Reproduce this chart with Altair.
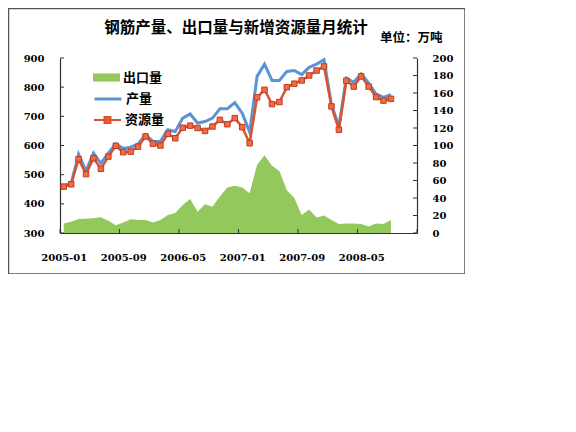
import json
import pandas as pd
import altair as alt

# ---------------- data ----------------
TITLE = "钢筋产量、出口量与新增资源量月统计"
UNIT = "单位：万吨"
SERIES = ["出口量", "产量", "资源量"]
TICK_LABELS = ["2005-01", "2005-09", "2006-05", "2007-01", "2007-09", "2008-05"]
N_CATEGORIES = 48          # category axis 2005-01 .. 2008-12
LABEL_STEP = 8             # a label every 8 months
LEFT_TICKS = [300, 400, 500, 600, 700, 800, 900]
RIGHT_TICKS = [0, 20, 40, 60, 80, 100, 120, 140, 160, 180, 200]

# monthly, 2005-01 .. 2008-09 (万吨)
EXPORT = [11, 13, 16, 16.4, 17, 18, 14, 9, 12, 15.7, 15, 15, 12, 15, 20.6, 23,
          32, 39, 24.4, 33, 30, 41.6, 52, 54, 52, 45.5, 78, 89, 77, 71, 49, 40,
          20.6, 27, 17.6, 20, 15, 10.3, 11, 11, 10.3, 7.3, 11, 10.3, 15]
PRODUCTION = [462, 470, 570, 512, 574, 539, 574, 605, 590, 594, 605, 637, 614,
              614, 654, 648, 694, 708, 677, 682, 694, 726, 726, 747, 711, 646,
              837, 879, 823, 823, 854, 857, 843, 868, 879, 894, 740, 665, 831,
              817, 846, 814, 776, 765, 774]
RESOURCE = [459, 467, 553, 502, 556, 520, 562, 599, 577, 579, 596, 631, 606,
            600, 640, 625, 661, 668, 660, 650, 665, 688, 673, 694, 663, 608,
            765, 791, 742, 749, 800, 812, 823, 840, 857, 871, 734, 654, 822,
            802, 837, 802, 766, 754, 760]

# ---------------- styles ----------------
GREEN = "#92C85C"
BLUE = "#5B93D3"
ORANGE = "#D9532F"
MARKER_FILL = "#EE6B45"
MARKER_STROKE = "#C23B22"
AXIS_COLOR = "#333333"
BORDER_COLOR = "#555555"
NUM_FONT = "DejaVu Serif"
CJK_FONT = "Noto Sans CJK SC"

W, H = 357, 175

df_exp = pd.DataFrame({"i": range(len(EXPORT)), "v": EXPORT, "s": SERIES[0]})
df_prod = pd.DataFrame({"i": range(len(PRODUCTION)), "v": PRODUCTION, "s": SERIES[1]})
df_res = pd.DataFrame({"i": range(len(RESOURCE)), "v": RESOURCE, "s": SERIES[2]})
df_xt = pd.DataFrame({"i": [k - 0.5 for k in range(0, N_CATEGORIES + 1, LABEL_STEP)]})
df_lt = pd.DataFrame({"v": LEFT_TICKS})
df_rt = pd.DataFrame({"v": RIGHT_TICKS})
one = pd.DataFrame({"a": [0]})

label_expr = f"{json.dumps(TICK_LABELS)}[round(datum.value / {LABEL_STEP})]"

X = alt.X(
    "i:Q",
    scale=alt.Scale(domain=[-0.5, N_CATEGORIES - 0.5], nice=False, zero=False),
    axis=alt.Axis(
        values=[k * LABEL_STEP for k in range(len(TICK_LABELS))],
        labelExpr=label_expr, title=None, grid=False, ticks=False, tickSize=0,
        labelFlush=False, labelPadding=19, labelFont=NUM_FONT, labelFontSize=10,
        labelFontWeight="bold", labelColor="black", domainColor=AXIS_COLOR,
        domainWidth=1.2, labelOverlap=False,
    ),
)

Y_LEFT = alt.Y(
    "v:Q",
    scale=alt.Scale(domain=[LEFT_TICKS[0], LEFT_TICKS[-1]], nice=False, zero=False),
    axis=alt.Axis(
        orient="left", values=LEFT_TICKS, title=None, grid=False, ticks=False,
        tickSize=0, labelPadding=16, labelFont=NUM_FONT, labelFontSize=10,
        labelFontWeight="bold", labelColor="black", domainColor=AXIS_COLOR,
        domainWidth=1.2, labelOverlap=False,
    ),
)

Y_RIGHT = alt.Y(
    "v:Q",
    scale=alt.Scale(domain=[RIGHT_TICKS[0], RIGHT_TICKS[-1]], nice=False),
    axis=alt.Axis(
        orient="right", values=RIGHT_TICKS, title=None, grid=False, ticks=False,
        tickSize=0, labelPadding=15, labelFont=NUM_FONT, labelFontSize=10,
        labelFontWeight="bold", labelColor="black", domainColor=AXIS_COLOR,
        domainWidth=1.2, labelOverlap=False,
    ),
)

LEG_COMMON = dict(orient="none", title=None, padding=0, labelFont=CJK_FONT,
                  labelFontSize=13, labelFontWeight="bold", labelColor="black",
                  labelOffset=3, symbolSize=729)

area = alt.Chart(df_exp).mark_area(opacity=1).encode(
    x=X, y=Y_RIGHT,
    color=alt.Color("s:N", scale=alt.Scale(domain=[SERIES[0]], range=[GREEN]),
                    legend=alt.Legend(legendX=33, legendY=6,
                                      symbolType="M-1,-0.3H1V0.3H-1Z",
                                      symbolStrokeWidth=0, **LEG_COMMON)),
)
rticks = alt.Chart(df_rt).mark_rule(color=AXIS_COLOR, strokeWidth=1).encode(
    y=Y_RIGHT, x=alt.value(W - 4), x2=alt.value(W))
right_group = alt.layer(area, rticks)

blue = alt.Chart(df_prod).mark_line(strokeWidth=3).encode(
    x=X, y=Y_LEFT,
    color=alt.Color("s:N", scale=alt.Scale(domain=[SERIES[1]], range=[BLUE]),
                    legend=alt.Legend(legendX=33, legendY=26, symbolType="stroke",
                                      symbolStrokeWidth=3, **LEG_COMMON)),
)
orange = alt.Chart(df_res).mark_line(strokeWidth=2.5).encode(
    x=X, y=Y_LEFT,
    color=alt.Color("s:N", scale=alt.Scale(domain=[SERIES[2]], range=[ORANGE]),
                    legend=alt.Legend(legendX=33, legendY=47.5,
                                      symbolType="M-1,0H1M-0.22,-0.22H0.22V0.22H-0.22Z",
                                      symbolStrokeWidth=2, symbolFillColor=MARKER_FILL,
                                      **LEG_COMMON)),
)
pts = alt.Chart(df_res).mark_point(shape="square", filled=True, size=30, opacity=1,
                                   fill=MARKER_FILL, stroke=MARKER_STROKE,
                                   strokeWidth=1).encode(x=X, y=Y_LEFT)
lticks = alt.Chart(df_lt).mark_rule(color=AXIS_COLOR, strokeWidth=1).encode(
    y=Y_LEFT, x=alt.value(0), x2=alt.value(4))
left_group = alt.layer(blue, orange, pts, lticks).resolve_scale(
    color="independent").resolve_legend(color="independent")

xticks = alt.Chart(df_xt).mark_rule(color=AXIS_COLOR, strokeWidth=1).encode(
    x=X, y=alt.value(H - 4), y2=alt.value(H))

border = alt.Chart(one).mark_rect(fillOpacity=0, stroke=BORDER_COLOR, strokeWidth=1.5).encode(
    x=alt.value(-51.5), x2=alt.value(405), y=alt.value(-49.5), y2=alt.value(216))

title = alt.Chart(one).mark_text(text=TITLE, font=CJK_FONT, fontSize=15.5,
                                 fontWeight="bold", align="center", baseline="middle",
                                 color="black").encode(x=alt.value(176), y=alt.value(-30.5))

unit = alt.Chart(one).mark_text(text=UNIT, font=CJK_FONT, fontSize=12.5,
                                fontWeight="bold", align="left", baseline="middle",
                                color="black").encode(x=alt.value(320), y=alt.value(-20))

chart = alt.layer(right_group, left_group, xticks, border, title, unit).resolve_scale(
    y="independent", color="independent").resolve_legend(color="independent").properties(
    width=W, height=H,
    autosize=alt.AutoSizeParams(type="none"),
    padding={"left": 52, "top": 50, "right": 48, "bottom": 41},
    background="white",
).configure_view(stroke=None)

chart.save("out.html", embed_options={"renderer": "svg", "actions": False})
